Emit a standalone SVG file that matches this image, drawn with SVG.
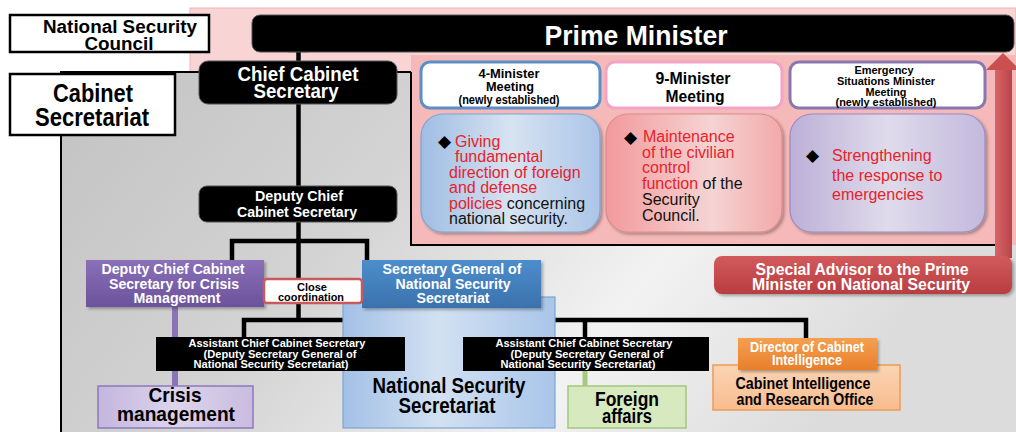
<svg xmlns="http://www.w3.org/2000/svg" width="1016" height="432" viewBox="0 0 1016 432">
  <defs>
    <style>
      .b { font-family: "Liberation Sans", Arial, sans-serif; font-weight: 700; text-anchor: middle; }
      .r { font-family: "Liberation Sans", "DejaVu Sans", Arial, sans-serif; font-size: 16px; fill: #111; }
      .dm { font-family: "DejaVu Sans", sans-serif; font-size: 17px; fill: #000; }
      .wt { fill: #fff; }
      .bk { fill: #000; }
      .red { fill: #e8222a; }
      .line { stroke: #000; stroke-width: 4.5; fill: none; }
      .blackbox { fill: #000; }
    </style>
    <linearGradient id="grayBg" x1="0" y1="0" x2="1" y2="0.3">
      <stop offset="0" stop-color="#c2c2c2"/>
      <stop offset="0.4" stop-color="#d4d4d4"/>
      <stop offset="0.72" stop-color="#f2f2f2"/>
      <stop offset="1" stop-color="#dcdcdc"/>
    </linearGradient>
    <linearGradient id="blueCard" x1="0" y1="0" x2="1" y2="0">
      <stop offset="0" stop-color="#9fbde3"/>
      <stop offset="0.5" stop-color="#d7e3f1"/>
      <stop offset="1" stop-color="#abc5e8"/>
    </linearGradient>
    <linearGradient id="pinkCard" x1="0" y1="0" x2="1" y2="0">
      <stop offset="0" stop-color="#f3999b"/>
      <stop offset="0.6" stop-color="#f5d4d4"/>
      <stop offset="1" stop-color="#f3a9a9"/>
    </linearGradient>
    <linearGradient id="purpleCard" x1="0" y1="0" x2="1" y2="0">
      <stop offset="0" stop-color="#bcb0d7"/>
      <stop offset="0.5" stop-color="#dfdbeb"/>
      <stop offset="1" stop-color="#c3b9dd"/>
    </linearGradient>
    <linearGradient id="nssFill" x1="0" y1="0" x2="1" y2="0">
      <stop offset="0" stop-color="#a3c0e6"/>
      <stop offset="0.45" stop-color="#d2e1f2"/>
      <stop offset="1" stop-color="#a9c5e9"/>
    </linearGradient>
    <linearGradient id="sgFill" x1="0" y1="0" x2="0" y2="1">
      <stop offset="0" stop-color="#4d8dcc"/>
      <stop offset="1" stop-color="#3a72ad"/>
    </linearGradient>
    <linearGradient id="crisisHead" x1="0" y1="0" x2="0" y2="1">
      <stop offset="0" stop-color="#8a70b8"/>
      <stop offset="1" stop-color="#6b529c"/>
    </linearGradient>
    <linearGradient id="crisisFill" x1="0" y1="0" x2="1" y2="0">
      <stop offset="0" stop-color="#c4b6de"/>
      <stop offset="0.5" stop-color="#dcd4ec"/>
      <stop offset="1" stop-color="#c9bce0"/>
    </linearGradient>
    <linearGradient id="dirFill" x1="0" y1="0" x2="0" y2="1">
      <stop offset="0" stop-color="#f5a050"/>
      <stop offset="1" stop-color="#e77f2c"/>
    </linearGradient>
    <linearGradient id="ciroFill" x1="0" y1="0" x2="0" y2="1">
      <stop offset="0" stop-color="#fbd4b4"/>
      <stop offset="1" stop-color="#f8bc8e"/>
    </linearGradient>
    <linearGradient id="advFill" x1="0" y1="0" x2="0" y2="1">
      <stop offset="0" stop-color="#d35a5c"/>
      <stop offset="1" stop-color="#b83d41"/>
    </linearGradient>
    <linearGradient id="arrowFill" x1="0" y1="0" x2="1" y2="0">
      <stop offset="0" stop-color="#d86466"/>
      <stop offset="1" stop-color="#b8454a"/>
    </linearGradient>
    <filter id="shadow" x="-10%" y="-10%" width="130%" height="140%">
      <feDropShadow dx="2" dy="2" stdDeviation="1.5" flood-color="#000" flood-opacity="0.3"/>
    </filter>
  </defs>

  <!-- backdrop -->
  <rect x="0" y="0" width="1016" height="432" fill="#fff"/>
  <!-- light pink band behind the Prime Minister -->
  <rect x="190" y="8" width="826" height="237" fill="#f9d4d5" stroke="#f2b2b4" stroke-width="1"/>
  <!-- Cabinet Secretariat grey area -->
  <rect x="61" y="72" width="955" height="360" fill="url(#grayBg)"/>
  <path d="M61 432 V72 H411" fill="none" stroke="#000" stroke-width="2"/>
  <!-- ministers' meetings panel -->
  <rect x="411" y="55" width="605" height="190" fill="#f5b9b9"/>
  <path d="M411 72 V245 H1012" fill="none" stroke="#000" stroke-width="2"/>

  <!-- connectors -->
  <g id="connectors">
    <rect x="289" y="42" width="19" height="10" fill="none" stroke="#888" stroke-width="1"/>
    <line class="line" x1="298.5" y1="45" x2="298.5" y2="61"/>
    <line class="line" x1="298.5" y1="104" x2="298.5" y2="186"/>
    <line class="line" x1="298.5" y1="222" x2="298.5" y2="322"/>
    <path class="line" d="M232 260 V241 H367 V260"/>
    <path class="line" d="M244 337 V320 H343"/>
    <path class="line" d="M555 320 H806 V338"/>
    <line class="line" x1="585" y1="320" x2="585" y2="337"/>
    <line x1="175" y1="307" x2="175" y2="386" stroke="#8a74b6" stroke-width="6"/>
    <line x1="585" y1="371" x2="585" y2="386" stroke="#a9c97f" stroke-width="5"/>
    <!-- advisor's arrow up to the Prime Minister -->
    <rect x="995" y="68" width="17" height="190" fill="url(#arrowFill)"/>
    <polygon points="986,70 1003,53 1020,70" fill="#c9504f"/>
  </g>

  <g id="national-security-council">
    <rect x="10" y="15" width="199" height="37" fill="#fff" stroke="#000" stroke-width="2.5"/>
    <text class="b bk" x="120" y="33" font-size="18" textLength="154" lengthAdjust="spacingAndGlyphs">National Security</text>
    <text class="b bk" x="119" y="50" font-size="18" textLength="69" lengthAdjust="spacingAndGlyphs">Council</text>
  </g>

  <g id="cabinet-secretariat">
    <rect x="10" y="74" width="165" height="61" fill="#fff" stroke="#000" stroke-width="2.5"/>
    <text class="b bk" x="93" y="102" font-size="26" textLength="80" lengthAdjust="spacingAndGlyphs">Cabinet</text>
    <text class="b bk" x="92" y="126" font-size="26" textLength="114" lengthAdjust="spacingAndGlyphs">Secretariat</text>
  </g>

  <g id="prime-minister">
    <rect x="252" y="15" width="762" height="37" rx="8" class="blackbox" stroke="#555" stroke-width="1"/>
    <text class="b wt" x="636" y="45" font-size="28" textLength="183" lengthAdjust="spacingAndGlyphs">Prime Minister</text>
  </g>

  <g id="chief-cabinet-secretary">
    <rect x="199" y="61" width="198" height="43" rx="9" class="blackbox" stroke="#555" stroke-width="1"/>
    <text class="b wt" x="298" y="81" font-size="20" textLength="121" lengthAdjust="spacingAndGlyphs">Chief Cabinet</text>
    <text class="b wt" x="296" y="98" font-size="20" textLength="85" lengthAdjust="spacingAndGlyphs">Secretary</text>
  </g>

  <g id="four-minister-meeting">
    <rect x="421" y="62" width="179" height="46" rx="9" fill="#fff" stroke="#5b8fc6" stroke-width="3"/>
    <text class="b bk" x="509" y="78" font-size="12" textLength="61" lengthAdjust="spacingAndGlyphs">4-Minister</text>
    <text class="b bk" x="510" y="91" font-size="12" textLength="48" lengthAdjust="spacingAndGlyphs">Meeting</text>
    <text class="b bk" x="509" y="104" font-size="12" textLength="101" lengthAdjust="spacingAndGlyphs">(newly established)</text>
    <rect x="421" y="114" width="179" height="118" rx="22" fill="url(#blueCard)" stroke="#7ea5d1" stroke-width="1.2" filter="url(#shadow)"/>
    <text class="dm" x="438" y="147">◆</text>
    <text class="r"><tspan class="red" x="455" y="147">Giving</tspan><tspan class="red" x="455" y="162">fundamental</tspan><tspan class="red" x="449" y="178">direction of foreign</tspan><tspan class="red" x="449" y="193">and defense</tspan><tspan x="449" y="209"><tspan class="red">policies</tspan> concerning</tspan><tspan x="449" y="224">national security.</tspan></text>
  </g>

  <g id="nine-minister-meeting">
    <rect x="606" y="62" width="176" height="46" rx="9" fill="#fff" stroke="#f3a3c4" stroke-width="3"/>
    <text class="b bk" x="693" y="84" font-size="17" textLength="75" lengthAdjust="spacingAndGlyphs">9-Minister</text>
    <text class="b bk" x="695" y="102" font-size="17" textLength="59" lengthAdjust="spacingAndGlyphs">Meeting</text>
    <rect x="606" y="114" width="176" height="118" rx="22" fill="url(#pinkCard)" stroke="#d98b8b" stroke-width="1.2" filter="url(#shadow)"/>
    <text class="dm" x="624" y="142.5">◆</text>
    <text class="r"><tspan class="red" x="643" y="142">Maintenance</tspan><tspan class="red" x="642" y="158">of the civilian</tspan><tspan class="red" x="642" y="173">control</tspan><tspan x="642" y="189"><tspan class="red">function</tspan> of the</tspan><tspan x="642" y="205">Security</tspan><tspan x="642" y="221">Council.</tspan></text>
  </g>

  <g id="emergency-situations-meeting">
    <rect x="790" y="62" width="195" height="46" rx="9" fill="#fff" stroke="#8878b2" stroke-width="3"/>
    <text class="b bk" x="884" y="74" font-size="11" textLength="59" lengthAdjust="spacingAndGlyphs">Emergency</text>
    <text class="b bk" x="886" y="85" font-size="11" textLength="98" lengthAdjust="spacingAndGlyphs">Situations Minister</text>
    <text class="b bk" x="886" y="96" font-size="11" textLength="41" lengthAdjust="spacingAndGlyphs">Meeting</text>
    <text class="b bk" x="886" y="106" font-size="11" textLength="101" lengthAdjust="spacingAndGlyphs">(newly established)</text>
    <rect x="790" y="114" width="195" height="118" rx="22" fill="url(#purpleCard)" stroke="#9a8cc3" stroke-width="1.2" filter="url(#shadow)"/>
    <text class="dm" x="806" y="161">◆</text>
    <text class="r red"><tspan x="832" y="161">Strengthening</tspan><tspan x="832" y="181">the response to</tspan><tspan x="832" y="200">emergencies</tspan></text>
  </g>

  <g id="deputy-chief-cabinet-secretary">
    <rect x="199" y="186" width="198" height="36" rx="8" class="blackbox" stroke="#555" stroke-width="1"/>
    <text class="b wt" x="299" y="201" font-size="15" textLength="88" lengthAdjust="spacingAndGlyphs">Deputy Chief</text>
    <text class="b wt" x="297" y="217" font-size="15" textLength="120" lengthAdjust="spacingAndGlyphs">Cabinet Secretary</text>
  </g>

  <g id="special-advisor">
    <rect x="714" y="256" width="298" height="38" rx="8" fill="url(#advFill)" filter="url(#shadow)"/>
    <text class="b wt" x="862" y="275" font-size="16" textLength="213" lengthAdjust="spacingAndGlyphs">Special Advisor to the Prime</text>
    <text class="b wt" x="861" y="290" font-size="16" textLength="218" lengthAdjust="spacingAndGlyphs">Minister on National Security</text>
  </g>

  <g id="deputy-crisis-management">
    <rect x="86" y="260" width="178" height="47" fill="url(#crisisHead)" filter="url(#shadow)"/>
    <text class="b wt" x="173" y="274" font-size="14.5" textLength="143" lengthAdjust="spacingAndGlyphs">Deputy Chief Cabinet</text>
    <text class="b wt" x="174" y="289" font-size="14.5" textLength="130" lengthAdjust="spacingAndGlyphs">Secretary for Crisis</text>
    <text class="b wt" x="177" y="303" font-size="14.5" textLength="87" lengthAdjust="spacingAndGlyphs">Management</text>
  </g>

  <g id="national-security-secretariat">
    <rect x="343" y="297" width="212" height="131" fill="url(#nssFill)" stroke="#7fa5d0" stroke-width="1.2"/>
    <text class="b bk" x="449" y="393" font-size="22" textLength="153" lengthAdjust="spacingAndGlyphs">National Security</text>
    <text class="b bk" x="447" y="413" font-size="22" textLength="97" lengthAdjust="spacingAndGlyphs">Secretariat</text>
  </g>

  <g id="secretary-general">
    <rect x="362" y="260" width="179" height="48" fill="url(#sgFill)" filter="url(#shadow)"/>
    <text class="b wt" x="452" y="274" font-size="14.5" textLength="139" lengthAdjust="spacingAndGlyphs">Secretary General of</text>
    <text class="b wt" x="453" y="289" font-size="14.5" textLength="115" lengthAdjust="spacingAndGlyphs">National Security</text>
    <text class="b wt" x="453" y="303" font-size="14.5" textLength="73" lengthAdjust="spacingAndGlyphs">Secretariat</text>
  </g>

  <g id="close-coordination">
    <rect x="264" y="279" width="98" height="24" rx="3" fill="#fff" stroke="#c85a5c" stroke-width="2.5"/>
    <text class="b bk" x="312" y="291" font-size="11.5" textLength="30" lengthAdjust="spacingAndGlyphs">Close</text>
    <text class="b bk" x="311" y="300.5" font-size="11.5" textLength="66" lengthAdjust="spacingAndGlyphs">coordination</text>
  </g>

  <g id="assistant-crisis">
    <rect x="156" y="337" width="249" height="34" class="blackbox"/>
    <text class="b wt" x="277" y="347" font-size="11.5" textLength="177" lengthAdjust="spacingAndGlyphs">Assistant Chief Cabinet Secretary</text>
    <text class="b wt" x="280" y="357.5" font-size="11.5" textLength="153" lengthAdjust="spacingAndGlyphs">(Deputy Secretary General of</text>
    <text class="b wt" x="271" y="368" font-size="11.5" textLength="155" lengthAdjust="spacingAndGlyphs">National Security Secretariat)</text>
  </g>

  <g id="assistant-foreign">
    <rect x="463" y="337" width="246" height="34" class="blackbox"/>
    <text class="b wt" x="584" y="347" font-size="11.5" textLength="177" lengthAdjust="spacingAndGlyphs">Assistant Chief Cabinet Secretary</text>
    <text class="b wt" x="587" y="357.5" font-size="11.5" textLength="153" lengthAdjust="spacingAndGlyphs">(Deputy Secretary General of</text>
    <text class="b wt" x="578" y="368" font-size="11.5" textLength="155" lengthAdjust="spacingAndGlyphs">National Security Secretariat)</text>
  </g>

  <g id="crisis-management">
    <rect x="98" y="386" width="155" height="42" fill="url(#crisisFill)" stroke="#8c7abb" stroke-width="1.5"/>
    <text class="b bk" x="175" y="402" font-size="21" textLength="53" lengthAdjust="spacingAndGlyphs">Crisis</text>
    <text class="b bk" x="176" y="421" font-size="21" textLength="118" lengthAdjust="spacingAndGlyphs">management</text>
  </g>

  <g id="foreign-affairs">
    <rect x="568" y="386" width="118" height="42" fill="#d7e9bf" stroke="#a5c67d" stroke-width="1.5"/>
    <text class="b bk" x="627" y="406" font-size="20" textLength="64" lengthAdjust="spacingAndGlyphs">Foreign</text>
    <text class="b bk" x="627" y="423" font-size="20" textLength="50" lengthAdjust="spacingAndGlyphs">affairs</text>
  </g>

  <g id="cabinet-intelligence-office">
    <rect x="713" y="365" width="187" height="45" fill="url(#ciroFill)" stroke="#f09a55" stroke-width="1.5"/>
    <text class="b bk" x="803" y="389" font-size="16" textLength="135" lengthAdjust="spacingAndGlyphs">Cabinet Intelligence</text>
    <text class="b bk" x="805" y="405" font-size="16" textLength="137" lengthAdjust="spacingAndGlyphs">and Research Office</text>
  </g>

  <g id="director-cabinet-intelligence">
    <rect x="738" y="338" width="139" height="32" fill="url(#dirFill)" filter="url(#shadow)"/>
    <text class="b wt" x="807" y="352" font-size="14" textLength="114" lengthAdjust="spacingAndGlyphs">Director of Cabinet</text>
    <text class="b wt" x="807" y="365" font-size="14" textLength="70" lengthAdjust="spacingAndGlyphs">Intelligence</text>
  </g>
</svg>
